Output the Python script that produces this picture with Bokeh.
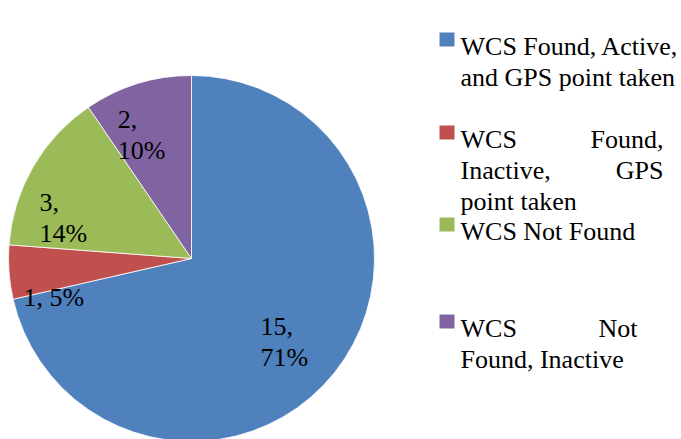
import math
from bokeh.plotting import figure
from bokeh.models import Range1d, Label
from bokeh.embed import file_html
from bokeh.resources import INLINE

# ---- data ----
categories = [
    "WCS Found, Active, and GPS point taken",
    "WCS Found, Inactive, GPS point taken",
    "WCS Not Found",
    "WCS Not Found, Inactive",
]
counts = [15, 1, 3, 2]
colors = ["#4F81BD", "#C0504D", "#9BBB59", "#8064A2"]

# ---- layout (screen pixels) ----
W, H = 681, 439
CX, CY, R = 191, 258, 183
FONT = "Liberation Serif"
FS = "26px"
LINE = 31
label_two_lines = [True, False, True, True]
label_frac = [0.529, 0.943, 0.885, 0.858]      # radial position of label anchor
label_dtheta = [-6.0, 8.8, 9.8, 10.9]          # angular nudge (deg) from slice middle
legend_word_breaks = [[3, 4], [2, 2, 2], [3], [2, 2]]
legend_first_baseline = [46, 139, 231, 328]
legend_justify_right = [None, 663, None, 637]
LEG_SQ_X0, LEG_SQ_X1, LEG_SQ_H = 439, 454, 14
LEG_TEXT_X = 460

p = figure(width=W, height=H, output_backend="svg", toolbar_location=None,
           x_range=Range1d(0, W), y_range=Range1d(-H, 0),
           min_border=0)
p.axis.visible = False
p.grid.visible = False
p.outline_line_color = None
p.background_fill_color = "white"
p.border_fill_color = "white"


def add_text(x, y, s, align="left"):
    p.add_layout(Label(x=x, y=y, text=s, text_font=FONT, text_font_size=FS,
                       text_align=align, text_baseline="alphabetic",
                       text_color="black"))


total = sum(counts)
cum = 0
starts, ends, mids = [], [], []
for c in counts:
    a0 = 90 - cum * 360 / total
    cum += c
    a1 = 90 - cum * 360 / total
    starts.append(math.radians(a1))
    ends.append(math.radians(a0))
    mids.append((a0 + a1) / 2)

p.wedge(x=[CX] * len(counts), y=[-CY] * len(counts), radius=R,
        start_angle=starts, end_angle=ends, direction="anticlock",
        fill_color=colors, line_color="white", line_width=0.8)

# data labels
for i, c in enumerate(counts):
    pct = round(100 * c / total)
    if label_two_lines[i]:
        lines = [f"{c},", f"{pct}%"]
    else:
        lines = [f"{c}, {pct}%"]
    ang = math.radians(mids[i] + label_dtheta[i])
    lx = CX + label_frac[i] * R * math.cos(ang)
    ly = -CY + label_frac[i] * R * math.sin(ang)
    for k, s in enumerate(lines):
        add_text(lx, ly - k * LINE, s)

# legend
qx0, qx1, qt, qb = [], [], [], []
for i, cat in enumerate(categories):
    words = cat.split()
    base = legend_first_baseline[i]
    qx0.append(LEG_SQ_X0); qx1.append(LEG_SQ_X1)
    qt.append(-(base - LEG_SQ_H)); qb.append(-base)
    idx = 0
    nlines = len(legend_word_breaks[i])
    for k, n in enumerate(legend_word_breaks[i]):
        w = words[idx:idx + n]
        idx += n
        y = -(base + k * LINE)
        jr = legend_justify_right[i]
        if jr is not None and k < nlines - 1 and len(w) == 2:
            add_text(LEG_TEXT_X, y, w[0])
            add_text(jr, y, w[1], align="right")
        else:
            add_text(LEG_TEXT_X, y, " ".join(w))

p.quad(left=qx0, right=qx1, top=qt, bottom=qb, fill_color=colors, line_color=None)

open("out.html", "w").write(file_html(p, INLINE))
